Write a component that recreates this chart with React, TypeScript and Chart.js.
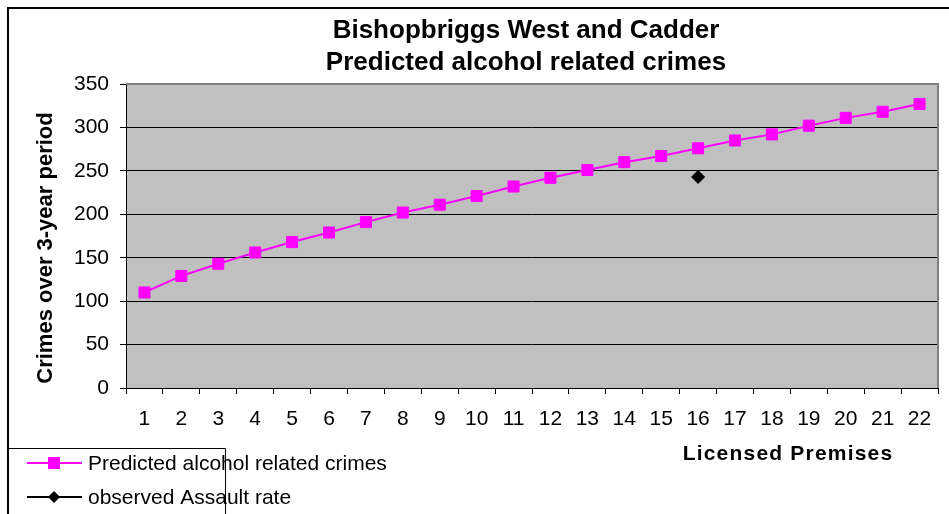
import { useEffect, useRef } from 'react';
import { Chart, registerables } from 'chart.js';

Chart.register(...registerables);

const titleLines = ['Bishopbriggs West and Cadder', 'Predicted alcohol related crimes'];
const xTitle = 'Licensed Premises';
const yTitle = 'Crimes over 3-year period';
const categories = ['1', '2', '3', '4', '5', '6', '7', '8', '9', '10', '11', '12', '13', '14', '15', '16', '17', '18', '19', '20', '21', '22'];
const predictedLabel = 'Predicted alcohol related crimes';
const predicted = [110, 129, 143, 156, 168, 179, 191, 202, 211, 221, 232, 242, 251, 260, 267, 276, 285, 292, 302, 311, 318, 327];
const observedLabel = 'observed Assault rate';
const observed: (number | null)[] = [null, null, null, null, null, null, null, null, null, null, null, null, null, null, null, 243, null, null, null, null, null, null];
const yMin = 0;
const yMax = 350;
const yStep = 50;

const FONT = '"Liberation Sans", Arial, sans-serif';
const MAGENTA = '#FF00FF';

const decorPlugin = {
  id: 'decor',
  beforeDraw(chart: any) {
    const { ctx, chartArea: a } = chart;
    ctx.save();
    ctx.fillStyle = '#FFFFFF';
    ctx.fillRect(0, 0, chart.width, chart.height);
    ctx.fillStyle = '#C0C0C0';
    ctx.fillRect(a.left, a.top, a.right - a.left, a.bottom - a.top);
    ctx.restore();
  },
  afterDraw(chart: any) {
    const { ctx, chartArea: a } = chart;
    ctx.save();
    // plot top/right border (gray)
    ctx.strokeStyle = '#808080';
    ctx.lineWidth = 2;
    ctx.beginPath();
    ctx.moveTo(a.left, a.top);
    ctx.lineTo(a.right, a.top);
    ctx.lineTo(a.right, a.bottom);
    ctx.stroke();

    // title
    ctx.fillStyle = '#000';
    ctx.textAlign = 'center';
    ctx.textBaseline = 'middle';
    ctx.font = `bold 26px ${FONT}`;
    const cx = (a.left + a.right) / 2 - 6;
    ctx.fillText(titleLines[0], cx, 31);
    ctx.fillText(titleLines[1], cx, 63);

    // x axis title
    ctx.font = `bold 21px ${FONT}`;
    (ctx as any).letterSpacing = '1.2px';
    ctx.fillText(xTitle, 788, 454);
    (ctx as any).letterSpacing = '0px';

    // y axis title
    ctx.save();
    ctx.translate(46, 248);
    ctx.rotate(-Math.PI / 2);
    ctx.font = `bold 22px ${FONT}`;
    ctx.fillText(yTitle, 0, 0);
    ctx.restore();

    // legend box
    ctx.strokeStyle = '#000';
    ctx.lineWidth = 1;
    ctx.beginPath();
    ctx.moveTo(8, 448.5);
    ctx.lineTo(225.5, 448.5);
    ctx.lineTo(225.5, 520);
    ctx.stroke();

    // legend item 1
    ctx.strokeStyle = MAGENTA;
    ctx.lineWidth = 2;
    ctx.beginPath();
    ctx.moveTo(27, 463);
    ctx.lineTo(82, 463);
    ctx.stroke();
    ctx.fillStyle = MAGENTA;
    ctx.fillRect(48, 457, 12, 12);

    // legend item 2
    ctx.strokeStyle = '#000';
    ctx.beginPath();
    ctx.moveTo(27, 497);
    ctx.lineTo(82, 497);
    ctx.stroke();
    ctx.fillStyle = '#000';
    ctx.beginPath();
    ctx.moveTo(54, 491);
    ctx.lineTo(60, 497);
    ctx.lineTo(54, 503);
    ctx.lineTo(48, 497);
    ctx.closePath();
    ctx.fill();

    ctx.fillStyle = '#000';
    ctx.textAlign = 'left';
    ctx.font = `21px ${FONT}`;
    ctx.fillText(predictedLabel, 88, 464);
    ctx.fillText(observedLabel, 88, 498);

    // outer border
    ctx.strokeStyle = '#000';
    ctx.lineWidth = 2;
    ctx.strokeRect(8, 8, 960, 530);
    ctx.restore();
  },
};

export default function App() {
  const ref = useRef<HTMLCanvasElement>(null);
  useEffect(() => {
    document.body.style.margin = '0';
    const chart = new Chart(ref.current!, {
      type: 'line',
      data: {
        labels: categories,
        datasets: [
          {
            label: predictedLabel,
            data: predicted,
            borderColor: MAGENTA,
            backgroundColor: MAGENTA,
            borderWidth: 2,
            pointStyle: 'rect',
            pointRadius: 7.8,
            pointBorderWidth: 1,
            pointBorderColor: MAGENTA,
            pointBackgroundColor: MAGENTA,
            tension: 0,
          },
          {
            label: observedLabel,
            data: observed,
            borderColor: '#000',
            backgroundColor: '#000',
            borderWidth: 2,
            showLine: false,
            pointStyle: 'rectRot',
            pointRadius: 6.5,
            pointBorderWidth: 1,
            pointBackgroundColor: '#000',
            pointBorderColor: '#000',
          },
        ],
      },
      options: {
        responsive: false,
        animation: false,
        devicePixelRatio: 1,
        layout: { padding: { left: 0, top: 84, right: 11, bottom: 0 } },
        plugins: {
          legend: { display: false },
          title: { display: false },
          tooltip: { enabled: false },
        },
        scales: {
          x: {
            type: 'category',
            offset: true,
            grid: {
              offset: true,
              drawOnChartArea: false,
              drawTicks: true,
              tickLength: 6,
              color: '#000',
              tickColor: '#000',
            },
            border: { color: '#000', width: 1 },
            ticks: {
              color: '#000',
              font: { family: FONT, size: 21 },
              padding: 13,
              maxRotation: 0,
              autoSkip: false,
            },
            afterFit: (scale: any) => {
              scale.height = 126;
            },
          },
          y: {
            min: yMin,
            max: yMax,
            grid: {
              color: (c: any) => (c.tick && c.tick.value === yMax ? 'rgba(0,0,0,0)' : '#000'),
              tickColor: '#000',
              tickLength: 6,
              lineWidth: 1,
            },
            border: { color: '#000', width: 1 },
            ticks: {
              stepSize: yStep,
              color: '#000',
              font: { family: FONT, size: 21 },
              padding: 11,
            },
            afterFit: (scale: any) => {
              scale.width = 126;
            },
          },
        },
      },
      plugins: [decorPlugin],
    });
    return () => chart.destroy();
  }, []);
  return (
    <div style={{ position: 'absolute', left: 0, top: 0, width: 949, height: 514 }}>
      <canvas ref={ref} width={949} height={514} style={{ display: 'block', width: 949, height: 514 }} />
    </div>
  );
}
